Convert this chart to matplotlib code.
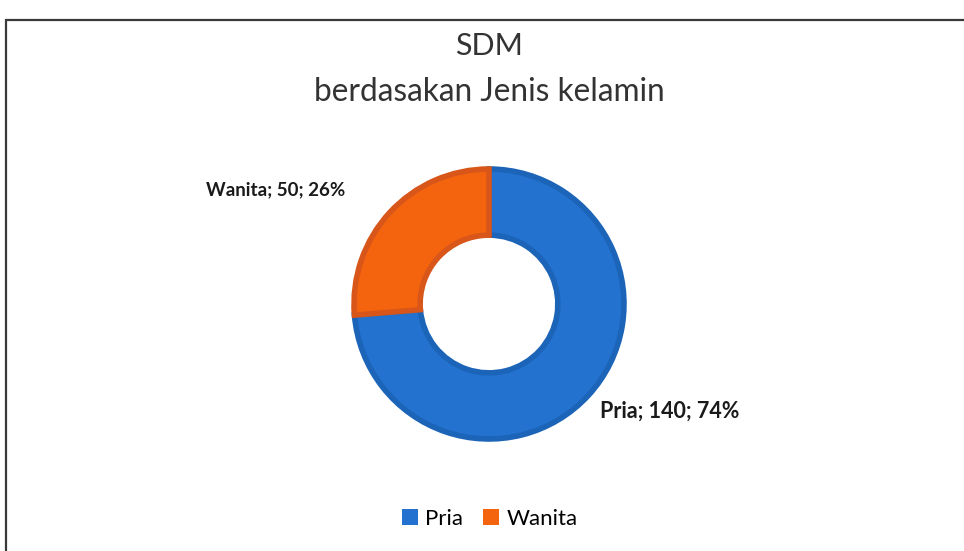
import matplotlib
matplotlib.use("Agg")
import matplotlib.pyplot as plt
from matplotlib.patches import Rectangle

# data
labels = ["Pria", "Wanita"]
values = [140, 50]
colors = ["#2372CF", "#F4640F"]
edges = ["#1B64B8", "#D8561A"]

plt.rcParams['font.family'] = ['Lato', 'DejaVu Sans']

W, H = 964, 551
fig = plt.figure(figsize=(W / 100, H / 100), dpi=100)
ax = fig.add_axes([0, 0, 1, 1])

# chart border
ax.add_patch(Rectangle((6, -10), W + 20, H - 10, fill=False,
                       edgecolor="#3a3a3a", linewidth=1.6))

cx, cy, r = 489, H - 304, 135
wedges, _ = ax.pie(values, colors=colors, startangle=90, counterclock=False,
                   center=(cx, cy), radius=r, frame=True,
                   wedgeprops=dict(width=r * 0.49, linewidth=0))
# darker rim like the Excel bevel
for w, ec in zip(wedges, edges):
    w.set_edgecolor(ec)
    w.set_linewidth(4)
    w.set_joinstyle('miter')
ax.set_xlim(0, W)
ax.set_ylim(0, H)
ax.set_aspect('equal')
ax.axis('off')

total = sum(values)
texts = ["%s; %d; %d%%" % (l, v, round(v * 100 / total)) for l, v in zip(labels, values)]
ax.text(600, H - 411, texts[0], ha='left', va='center', fontsize=15.5,
        fontweight='bold', color="#1a1a1a")
ax.text(345, H - 190, texts[1], ha='right', va='center', fontsize=13.5,
        fontweight='bold', color="#1a1a1a")

ax.text(489, H - 46, "SDM", ha='center', va='center', fontsize=22, color="#333333")
ax.text(489, H - 92, "berdasakan Jenis kelamin", ha='center', va='center',
        fontsize=22.8, color="#333333")

handles = [Rectangle((0, 0), 1, 1, facecolor=c, edgecolor='none') for c in colors]
fig.legend(handles, labels, loc='center', bbox_to_anchor=(490 / W, 1 - 519 / H),
           ncol=2, frameon=False, fontsize=16, handlelength=0.7, handleheight=0.7,
           handletextpad=0.35, columnspacing=0.9)

fig.savefig("out.png", dpi=100, facecolor='white')
